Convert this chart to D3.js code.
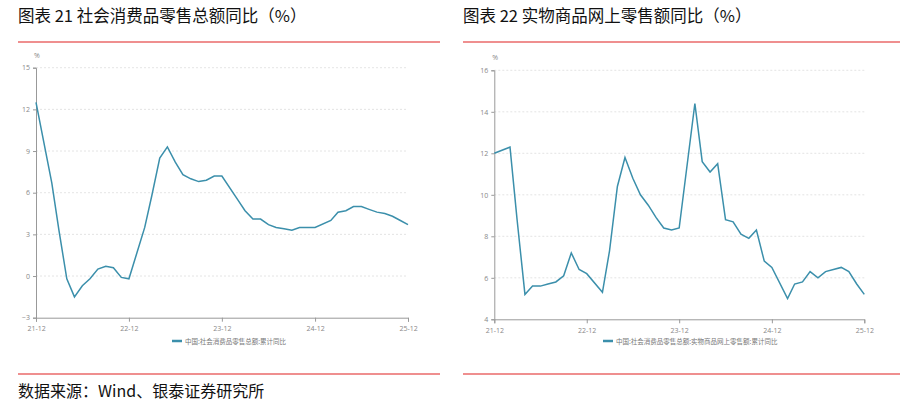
<!DOCTYPE html>
<html><head><meta charset="utf-8">
<script src="https://cdn.jsdelivr.net/npm/d3@7"></script>
<style>body{margin:0;background:#fff}</style>
</head><body>
<svg id="c" width="904" height="406"></svg>
<script>
// months: Dec-21 then Feb..Dec each year (Jan merged into Feb)
var months = ["2021-12"];
[2022, 2023, 2024, 2025].forEach(function(y){
  for (var m = 2; m <= 12; m++) months.push(y + "-" + (m < 10 ? "0" + m : m));
});
var retailYoY = [12.5,
  6.7,3.3,-0.2,-1.5,-0.7,-0.2,0.5,0.7,0.6,-0.1,-0.2,
  3.5,5.8,8.5,9.3,8.2,7.3,7.0,6.8,6.9,7.2,7.2,
  5.5,4.7,4.1,4.1,3.7,3.5,3.4,3.3,3.5,3.5,3.5,
  4.0,4.6,4.7,5.0,5.0,4.8,4.6,4.5,4.3,4.0,3.7];
var onlineYoY = [12.0,
  12.3,8.8,5.2,5.6,5.6,5.7,5.8,6.1,7.2,6.4,6.2,
  5.3,7.3,10.4,11.8,10.8,10.0,9.5,8.9,8.4,8.3,8.4,
  14.4,11.6,11.1,11.5,8.8,8.7,8.1,7.9,8.3,6.8,6.5,
  5.0,5.7,5.8,6.3,6.0,6.3,6.4,6.5,6.3,5.7,5.2];
var xTicks = ["21-12","22-12","23-12","24-12","25-12"];
var yTicks1 = [-3, 0, 3, 6, 9, 12, 15];
var yTicks2 = [4, 6, 8, 10, 12, 14, 16];

var parse = d3.timeParse("%Y-%m");
var svg = d3.select("#c");
var red = "#e02020", lineColor = "#3b8fab", txt = "#888";

function header(x0, x1, title){
  svg.append("text").attr("x", x0).attr("y", 22)
    .style("font", "16.5px 'Noto Sans CJK SC'").attr("fill", "#111").text(title);
  svg.append("line").attr("x1", x0).attr("x2", x1).attr("y1", 42).attr("y2", 42)
    .attr("stroke", red).attr("stroke-width", 1.2);
  svg.append("line").attr("x1", x0).attr("x2", x1).attr("y1", 374).attr("y2", 374)
    .attr("stroke", red).attr("stroke-width", 1.2);
}

function chart(opt){
  var x = d3.scaleTime().domain([parse("2021-12"), parse("2025-12")]).range([opt.left, opt.right]);
  var y = d3.scaleLinear().domain(opt.domain).range([opt.bottom, opt.top]);
  var g = svg.append("g");
  // grid
  g.selectAll(".grid").data(opt.ticks.slice(1))
    .enter().append("line")
    .attr("x1", opt.left).attr("x2", opt.right)
    .attr("y1", function(d){return y(d);}).attr("y2", function(d){return y(d);})
    .attr("stroke", "#ddd").attr("stroke-dasharray", "2,2").attr("stroke-width", 0.8);
  var ya = g.append("g").attr("transform", "translate(" + opt.left + ",0)")
    .call(d3.axisLeft(y).tickValues(opt.ticks).tickSize(3));
  var xa = g.append("g").attr("transform", "translate(0," + opt.bottom + ")")
    .call(d3.axisBottom(x).tickValues(xTicks.map(function(t){return parse("20" + t);}))
      .tickFormat(d3.timeFormat("%y-%m")).tickSize(4));
  [ya, xa].forEach(function(a){
    a.select(".domain").attr("stroke", "#999");
    a.selectAll(".tick line").attr("stroke", "#999");
    a.selectAll("text").attr("fill", txt).style("font", "7px 'Open Sans'");
  });
  xa.selectAll("text").attr("dy", "0.9em");
  g.append("text").attr("x", opt.left - 2).attr("y", opt.top - 10)
    .attr("fill", txt).style("font", "7px 'Open Sans'").text("%");
  g.append("path").datum(opt.values)
    .attr("fill", "none").attr("stroke", lineColor).attr("stroke-width", 1.5)
    .attr("d", d3.line().x(function(d, i){return x(parse(months[i]));}).y(function(d){return y(d);}));
  g.append("line").attr("x1", opt.legendX).attr("x2", opt.legendX + 10)
    .attr("y1", 341).attr("y2", 341).attr("stroke", lineColor).attr("stroke-width", 2.5);
  g.append("text").attr("x", opt.legendX + 13).attr("y", 343.5)
    .attr("fill", "#777").style("font", "6.5px 'Noto Sans CJK SC'").text(opt.legend);
}

header(18, 440, "图表 21  社会消费品零售总额同比（%）");
header(463, 900, "图表 22  实物商品网上零售额同比（%）");

chart({left: 36, right: 408, top: 67.7, bottom: 317.7, domain: [-3, 15], ticks: yTicks1,
  values: retailYoY, legendX: 172, legend: "中国:社会消费品零售总额:累计同比"});
chart({left: 494.3, right: 864.3, top: 70.3, bottom: 319.3, domain: [4, 16], ticks: yTicks2,
  values: onlineYoY, legendX: 603, legend: "中国:社会消费品零售总额:实物商品网上零售额:累计同比"});

svg.append("text").attr("x", 18).attr("y", 397)
  .style("font", "16px 'Noto Sans CJK SC'").attr("fill", "#111").text("数据来源：Wind、银泰证券研究所");
</script>
</body></html>
